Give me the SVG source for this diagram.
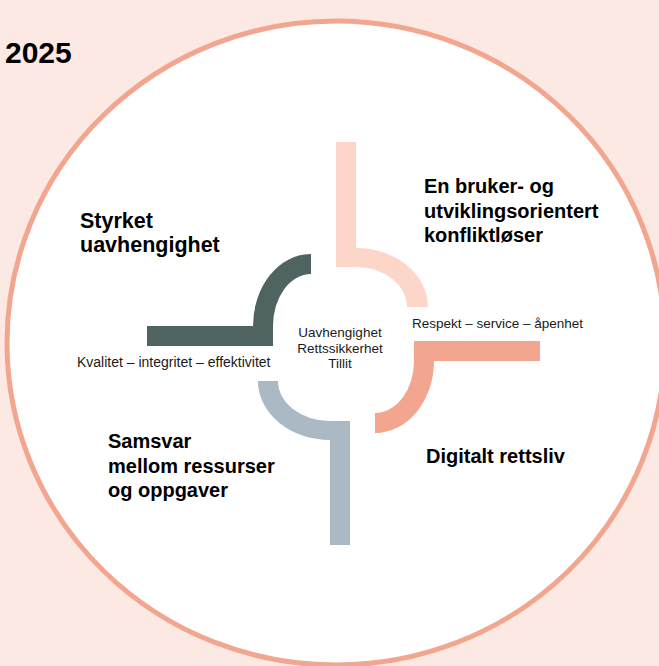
<svg xmlns="http://www.w3.org/2000/svg" width="659" height="666" viewBox="0 0 659 666">
<style>
.h{font-family:"Liberation Sans",Arial,sans-serif;font-weight:bold;font-size:20px;fill:#000}
.s{font-family:"Liberation Sans",Arial,sans-serif;font-size:13.5px;fill:#1a1a1a}
</style>
<rect width="659" height="666" fill="#fde9e3"/>
<ellipse cx="336" cy="343" rx="329" ry="322" fill="#fff" stroke="#f2a68f" stroke-width="5"/>
<text x="5" y="63" font-family="Liberation Sans, Arial, sans-serif" font-weight="bold" font-size="30" fill="#000">2025</text>
<g id="connectors">
<path id="pink" d="M336,142 H356 V248 A72 59 0 0 1 428 307 H407 A51 40 0 0 0 356 267 H336 Z" fill="#fdd6ca"/>
<path id="salmon" d="M414,341 H540 V361 H434 A59 72 0 0 1 375 433 V413 A39 52 0 0 0 414 361 Z" fill="#f2a68f"/>
<path id="green" d="M147,326 H253 A58 72 0 0 1 311 254 V274 A38 52 0 0 0 273 326 V346 H147 Z" fill="#4f6461"/>
<path id="gray" d="M258,381 H278 A52 40 0 0 0 330 421 H350 V545 H330 V440 A72 59 0 0 1 258 381 Z" fill="#aab9c4"/>
</g>
<g id="center">
<text class="s" x="340" y="337" text-anchor="middle">Uavhengighet</text>
<text class="s" x="340" y="353" text-anchor="middle">Rettssikkerhet</text>
<text class="s" x="340" y="368" text-anchor="middle">Tillit</text>
</g>
<g id="node-styrket">
<text class="h" x="80" y="228" style="font-size:21.5px">Styrket</text>
<text class="h" x="80" y="252" style="font-size:21.5px">uavhengighet</text>
<text class="s" x="77" y="367" style="font-size:14px">Kvalitet – integritet – effektivitet</text>
</g>
<g id="node-bruker">
<text class="h" x="424" y="193">En bruker- og</text>
<text class="h" x="424" y="218">utviklingsorientert</text>
<text class="h" x="424" y="242">konfliktløser</text>
<text class="s" x="412" y="328">Respekt – service – åpenhet</text>
</g>
<g id="node-digitalt">
<text class="h" x="426" y="463">Digitalt rettsliv</text>
</g>
<g id="node-samsvar">
<text class="h" x="108" y="448">Samsvar</text>
<text class="h" x="108" y="473">mellom ressurser</text>
<text class="h" x="108" y="497">og oppgaver</text>
</g>
</svg>
